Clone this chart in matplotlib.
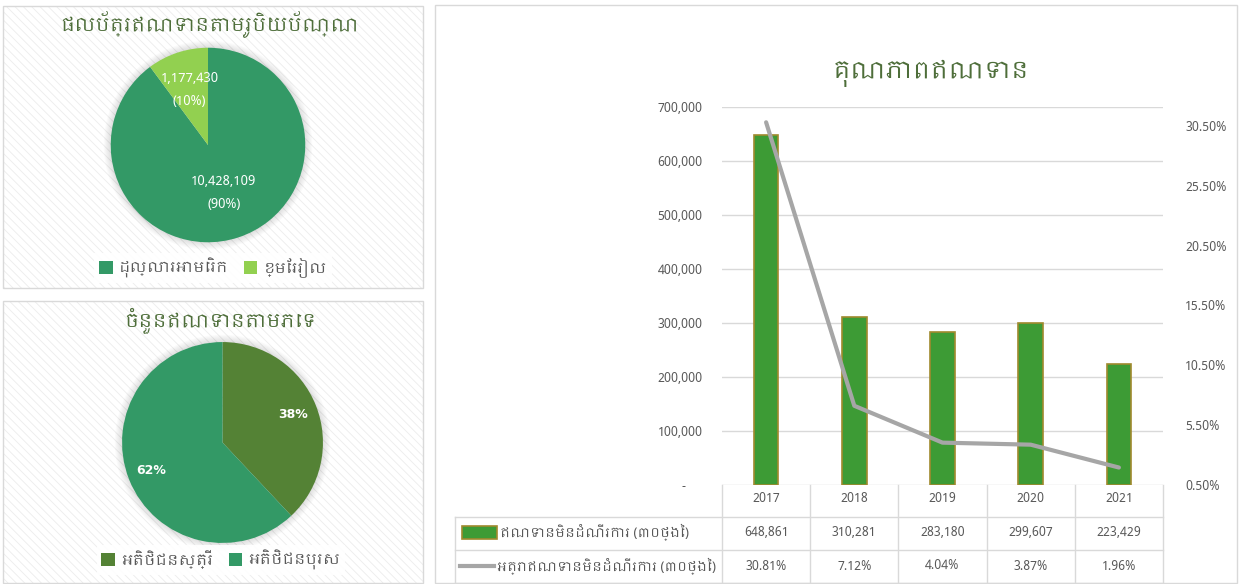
import matplotlib
matplotlib.use("Agg")
import matplotlib.pyplot as plt
import matplotlib.transforms as mtransforms
import numpy as np
from matplotlib import font_manager
from matplotlib.patches import Rectangle, Patch, Circle
from matplotlib.lines import Line2D
from matplotlib.ticker import FixedLocator, FuncFormatter

# --- data -------------------------------------------------------------
currency_title = "ផលប័ត្រឥណទានតាមរូបិយប័ណ្ណ"
currency_labels = ["ដុល្លារអាមេរិក", "ខ្មែររៀល"]
currency_values = [10428109, 1177430]

gender_title = "ចំនួនឥណទានតាមភេទ"
gender_labels = ["អតិថិជនស្ត្រី", "អតិថិជនបុរស"]
gender_shares = [38, 62]

quality_title = "គុណភាពឥណទាន"
years = ["2017", "2018", "2019", "2020", "2021"]
npl_amount = [648861, 310281, 283180, 299607, 223429]
npl_rate = [30.81, 7.12, 4.04, 3.87, 1.96]
series_names = ["ឥណទានមិនដំណើរការ (៣០ថ្ងៃ)", "អត្រាឥណទានមិនដំណើរការ (៣០ថ្ងៃ)"]

# --- fonts ------------------------------------------------------------
khmer = sorted({f.name for f in font_manager.fontManager.ttflist if "Khmer" in f.name})
plt.rcParams["font.family"] = khmer + ["DejaVu Sans"]
plt.rcParams["hatch.linewidth"] = 0.6

W, H = 1239, 584


def fx(x):
    return x / W


def fy(y):
    return 1 - y / H


def box(x0, y0, x1, y1):
    return [x0 / W, 1 - y1 / H, (x1 - x0) / W, (y1 - y0) / H]


TITLE_GREEN = "#4e6e3a"
TEXT_GREY = "#595959"
GRID = "#d9d9d9"
DARK_GREEN = "#339966"
LIGHT_GREEN = "#92d050"
OLIVE = "#548235"

fig = plt.figure(figsize=(W / 100, H / 100), dpi=100)
fig.patch.set_facecolor("white")

# panel backgrounds (kept behind the axes)
for (x0, y0, x1, y1) in [(3, 6, 423, 288), (3, 301, 423, 583)]:
    l, b, w, h = box(x0, y0, x1, y1)
    fig.patches.append(Rectangle((l, b), w, h, transform=fig.transFigure,
                                 facecolor="white", edgecolor="#ececec",
                                 hatch="\\" * 4, lw=0, zorder=-2))
    fig.patches.append(Rectangle((l, b), w, h, transform=fig.transFigure,
                                 facecolor="none", edgecolor=GRID, lw=1, zorder=-1))
l, b, w, h = box(435, 5, 1237, 583)
fig.patches.append(Rectangle((l, b), w, h, transform=fig.transFigure,
                             facecolor="white", edgecolor=GRID, lw=1, zorder=-1))


def pie_legend(labels, colors, x, y):
    handles = [Patch(facecolor=c, edgecolor="none") for c in colors]
    leg = fig.legend(handles, labels, loc="center", bbox_to_anchor=(fx(x), fy(y)),
                     ncol=2, fontsize=11, frameon=True, fancybox=False,
                     facecolor="white", edgecolor="none", framealpha=0.9,
                     handlelength=0.9, handleheight=0.9, handletextpad=0.4,
                     columnspacing=1.0, borderpad=0.3, labelcolor=TEXT_GREY)
    return leg


def soft_shadow(a):
    # faint halo like the office chart shadow
    for k in range(6):
        a.add_patch(Circle((0, 0), 1 + 0.012 * (k + 1), facecolor="black",
                           edgecolor="none", alpha=0.018, zorder=0))


# --- pie 1: portfolio by currency -------------------------------------
ax1 = fig.add_axes(box(101, 38, 315, 252))
soft_shadow(ax1)
wedges, _ = ax1.pie(currency_values, colors=[DARK_GREEN, LIGHT_GREEN],
                    startangle=90, counterclock=False, radius=1,
                    wedgeprops=dict(linewidth=0, zorder=2))
total = sum(currency_values)
for wdg, val, dist in zip(wedges, currency_values, [0.52, 0.6]):
    ang = np.deg2rad((wdg.theta1 + wdg.theta2) / 2)
    ax1.text(dist * np.cos(ang), dist * np.sin(ang),
             f"{val:,}\n({val / total * 100:.0f}%)", ha="center", va="center",
             color="white", fontsize=9.5, linespacing=2.0, zorder=3)
ax1.set_xlim(-1.1, 1.1)
ax1.set_ylim(-1.1, 1.1)
ax1.axis("off")
fig.text(fx(209), fy(25), currency_title, ha="center", va="center",
         fontsize=13.5, color=TITLE_GREEN)
pie_legend(currency_labels, [DARK_GREEN, LIGHT_GREEN], 213, 268)

# --- pie 2: number of loans by gender ---------------------------------
ax2 = fig.add_axes(box(112, 332, 333, 553))
soft_shadow(ax2)
wedges, _ = ax2.pie(gender_shares, colors=[OLIVE, DARK_GREEN],
                    startangle=90, counterclock=False, radius=1,
                    wedgeprops=dict(linewidth=0, zorder=2))
for wdg, share in zip(wedges, gender_shares):
    ang = np.deg2rad((wdg.theta1 + wdg.theta2) / 2)
    ax2.text(0.76 * np.cos(ang), 0.76 * np.sin(ang), f"{share}%",
             ha="center", va="center", color="white", fontsize=9,
             fontweight="bold", family="DejaVu Sans", zorder=3)
ax2.set_xlim(-1.1, 1.1)
ax2.set_ylim(-1.1, 1.1)
ax2.axis("off")
fig.text(fx(220), fy(320), gender_title, ha="center", va="center",
         fontsize=13.5, color=TITLE_GREEN)
pie_legend(gender_labels, [OLIVE, DARK_GREEN], 221, 560)

# --- main chart: loan quality -----------------------------------------
PX_TOP, PX_BOT = 107, 485
ax = fig.add_axes(box(722, PX_TOP, 1163, PX_BOT))
ax.patch.set_visible(False)
x = np.arange(len(years))
ax.bar(x, npl_amount, width=0.28, color="#3d9b35", edgecolor="#a08a2e",
       linewidth=1.2, zorder=3)
ax.set_xlim(-0.5, len(years) - 0.5)
ax.set_ylim(0, 700000)
ax.yaxis.set_major_locator(FixedLocator(np.arange(0, 700001, 100000)))
ax.yaxis.set_major_formatter(FuncFormatter(lambda v, p: "-     " if v == 0 else f"{v:,.0f}"))
ax.grid(axis="y", color=GRID, lw=1, zorder=0)
ax.set_xticks([])
ax.tick_params(axis="y", length=0, pad=14, labelsize=9, labelcolor=TEXT_GREY)
for s in ax.spines.values():
    s.set_visible(False)

axr = ax.twinx()
axr.plot(x, npl_rate, color="#a6a6a6", lw=3, solid_capstyle="round", zorder=4)
axr.set_ylim(0.5, 0.5 + 30 * (PX_BOT - PX_TOP) / 359)
axr.yaxis.set_major_locator(FixedLocator(np.arange(0.5, 31, 5)))
axr.yaxis.set_major_formatter(FuncFormatter(lambda v, p: f"{v:.2f}%"))
axr.tick_params(axis="y", length=0, pad=16, labelsize=9, labelcolor=TEXT_GREY)
for s in axr.spines.values():
    s.set_visible(False)

fig.text(fx(931), fy(73), quality_title, ha="center", va="center",
         fontsize=17, color=TITLE_GREEN)

# data table under the plot
span = PX_BOT - PX_TOP
cat_px = (1163 - 722) / len(years)


def ay(py):
    return (PX_BOT - py) / span


def xd(px):
    return -0.5 + (px - 722) / cat_px


tr = mtransforms.blended_transform_factory(ax.transData, ax.transAxes)
row_lines = [517, 550, 583]
for i in range(len(years) + 1):
    ax.add_line(Line2D([i - 0.5, i - 0.5], [ay(PX_BOT), ay(583)], transform=tr,
                       color=GRID, lw=1, clip_on=False))
for py in row_lines:
    ax.add_line(Line2D([xd(455), len(years) - 0.5], [ay(py), ay(py)], transform=tr,
                       color=GRID, lw=1, clip_on=False))
ax.add_line(Line2D([xd(455), xd(455)], [ay(517), ay(583)], transform=tr,
                   color=GRID, lw=1, clip_on=False))

for i, yr in enumerate(years):
    ax.text(i, ay(499), yr, transform=tr, ha="center", va="center",
            fontsize=9, color=TEXT_GREY)
    ax.text(i, ay(533), f"{npl_amount[i]:,}", transform=tr, ha="center",
            va="center", fontsize=9, color=TEXT_GREY)
    ax.text(i, ay(566), f"{npl_rate[i]:.2f}%", transform=tr, ha="center",
            va="center", fontsize=9, color=TEXT_GREY)

ax.add_patch(Rectangle((xd(462), ay(539)), xd(497) - xd(462), ay(526) - ay(539),
                       transform=tr, facecolor="#3d9b35", edgecolor="#a08a2e",
                       lw=1.2, clip_on=False))
ax.add_line(Line2D([xd(460), xd(494)], [ay(566), ay(566)], transform=tr,
                   color="#a6a6a6", lw=3, clip_on=False))
ax.text(xd(500), ay(532), series_names[0], transform=tr, ha="left", va="center",
        fontsize=9.5, color=TEXT_GREY)
ax.text(xd(497), ay(566), series_names[1], transform=tr, ha="left", va="center",
        fontsize=9.5, color=TEXT_GREY)

fig.savefig("out.png", dpi=100)
